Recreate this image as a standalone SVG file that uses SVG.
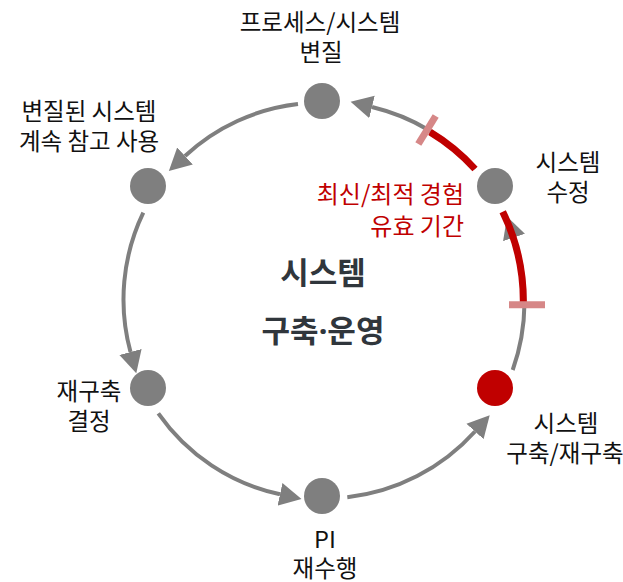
<svg xmlns="http://www.w3.org/2000/svg" width="623" height="582" viewBox="0 0 623 582">
<style>
.lbl{font-family:"Noto Sans CJK KR","Noto Sans",sans-serif;font-size:23.5px;fill:#111;text-anchor:middle}
.red{fill:#C00000;text-anchor:end;font-size:24px}
.title{font-family:"Noto Sans CJK KR","Noto Sans",sans-serif;font-size:31px;font-weight:bold;fill:#30363c;text-anchor:middle}
.dot{font-family:"Noto Sans",sans-serif}
.node{fill:#7F7F7F}
.conn{fill:none;stroke:#7F7F7F;stroke-width:4}
.hot{fill:none;stroke:#C00000;stroke-width:7}
.tick{stroke:#D68787;stroke-width:7}
</style>
<defs>
<marker id="ah" markerUnits="userSpaceOnUse" markerWidth="24" markerHeight="24" viewBox="0 0 24 24" refX="0" refY="12" orient="auto">
<path d="M0,0.5 L22,12 L0,23.5 Z" fill="#7F7F7F"/>
</marker>
</defs>
<g id="connectors">
<path class="conn" d="M298,104 A200,200 0 0 0 185,156" marker-end="url(#ah)"/>
<path class="conn" d="M143.3,212.7 A200,200 0 0 0 130.5,352" marker-end="url(#ah)"/>
<path class="conn" d="M158.3,413.3 A200,200 0 0 0 280,494.3" marker-end="url(#ah)"/>
<path class="conn" d="M347.3,497.3 A203,203 0 0 0 475,431.5" marker-end="url(#ah)"/>
<path class="conn" d="M512.7,370 A203,203 0 0 0 514,237.5" marker-end="url(#ah)"/>
<path class="conn" d="M475,169 A200,200 0 0 0 372,107" marker-end="url(#ah)"/>
<path class="hot" d="M523.3,303.3 A203,203 0 0 0 502.7,211.7"/>
<path class="hot" d="M475,169 A200,200 0 0 0 430,132"/>
<line class="tick" x1="418.3" y1="144" x2="435.7" y2="116"/>
<line class="tick" x1="509" y1="304.7" x2="545" y2="304.7"/>
</g>
<g id="node-top">
<circle class="node" cx="322" cy="101" r="18"/>
<text class="lbl" x="320" y="31">프로세스/시스템</text>
<text class="lbl" x="321" y="61">변질</text>
</g>
<g id="node-topleft">
<circle class="node" cx="148" cy="186" r="18"/>
<text class="lbl" x="89" y="120">변질된 시스템</text>
<text class="lbl" x="89" y="150">계속 참고 사용</text>
</g>
<g id="node-left">
<circle class="node" cx="148" cy="388" r="18"/>
<text class="lbl" x="89" y="400">재구축</text>
<text class="lbl" x="89" y="430">결정</text>
</g>
<g id="node-bottom">
<circle class="node" cx="322" cy="496" r="18"/>
<text class="lbl" x="325" y="548">PI</text>
<text class="lbl" x="325" y="577">재수행</text>
</g>
<g id="node-bottomright">
<circle cx="495" cy="388" r="18" fill="#C00000"/>
<text class="lbl" x="566" y="432">시스템</text>
<text class="lbl" x="565" y="462">구축/재구축</text>
</g>
<g id="node-topright">
<circle class="node" cx="495" cy="186" r="18"/>
<text class="lbl" x="568" y="171">시스템</text>
<text class="lbl" x="568" y="201">수정</text>
</g>
<g id="period-label">
<text class="lbl red" x="464" y="203">최신/최적 경험</text>
<text class="lbl red" x="464" y="235">유효 기간</text>
</g>
<g id="center-label">
<text class="title" x="323" y="284">시스템</text>
<text class="title" x="323" y="342">구축<tspan class="dot">·</tspan>운영</text>
</g>
</svg>
